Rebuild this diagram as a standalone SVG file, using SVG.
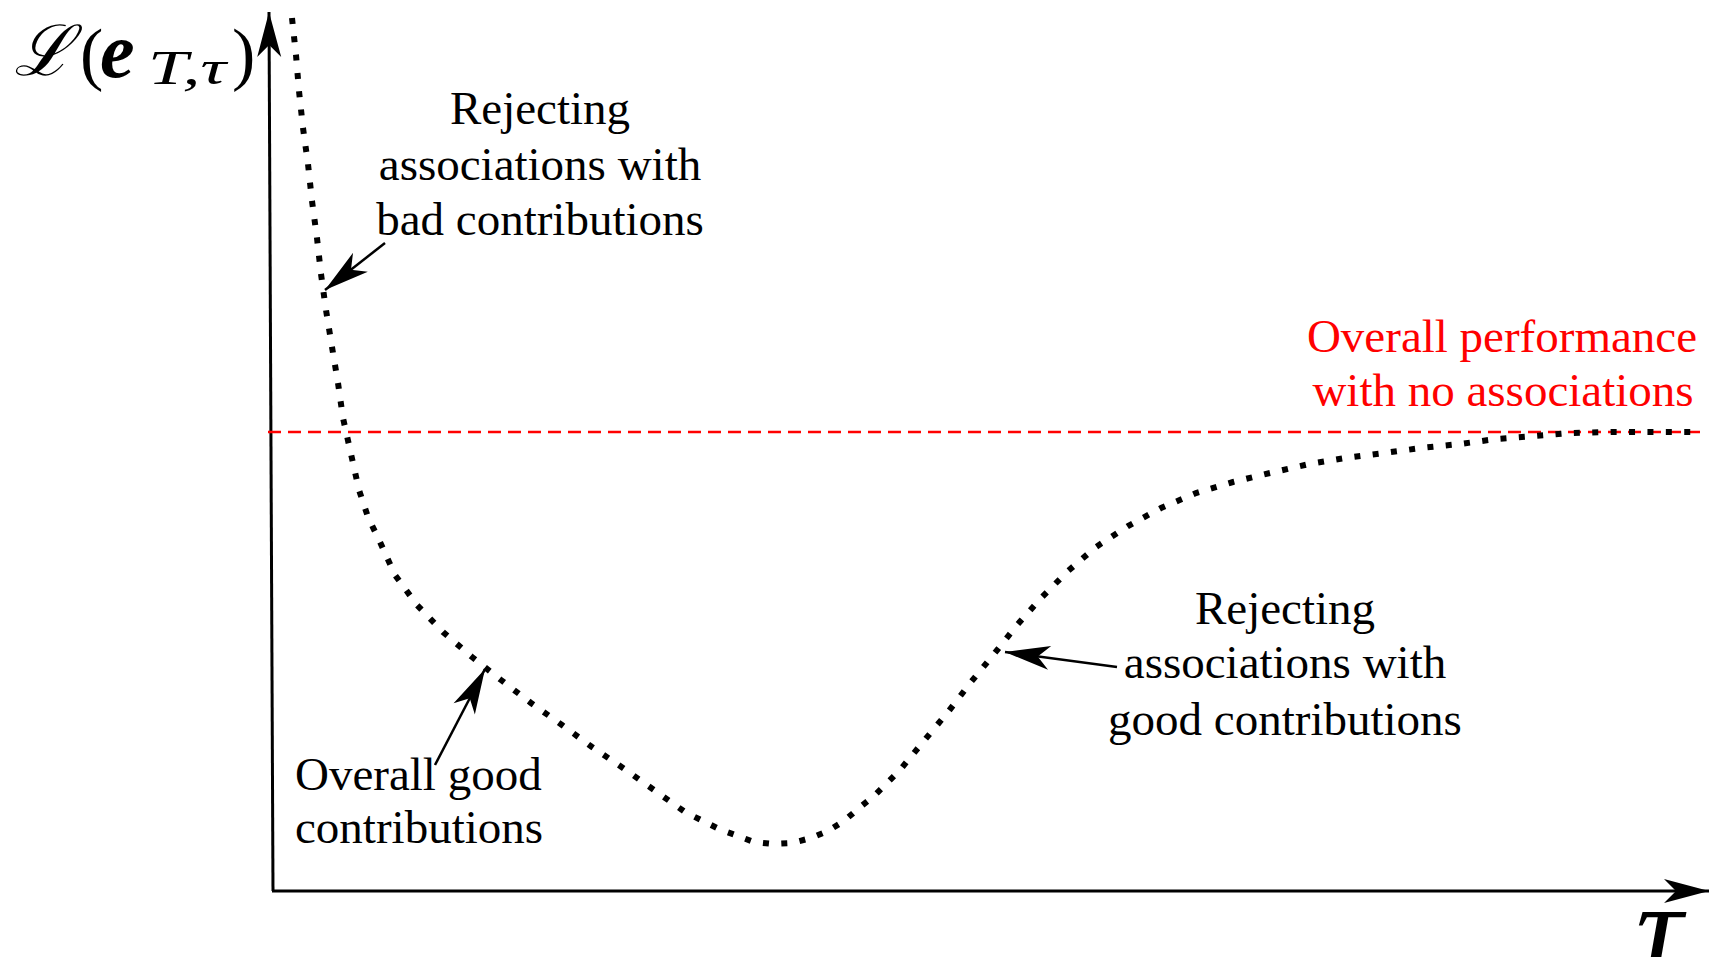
<svg xmlns="http://www.w3.org/2000/svg" width="1715" height="957" viewBox="0 0 1715 957">
<style>
.lbl{font-family:"Liberation Serif","Times New Roman",serif;font-size:47px;fill:#000}
.red{fill:#ff0000}
.ax{stroke:#000;stroke-width:3;fill:none}
.ptr{stroke:#000;stroke-width:2.5;fill:none}
</style>
<defs>
<marker id="arr" viewBox="-47 -14 49 28" refX="0" refY="0" markerWidth="49" markerHeight="28" markerUnits="userSpaceOnUse" orient="auto">
<path d="M0,0 L-45,-12 L-33,0 L-45,12 Z" fill="#000"/>
</marker>
</defs>
<rect width="1715" height="957" fill="#fff"/>
<g id="axes">
<path class="ax" d="M273,891 L269,12" marker-end="url(#arr)"/>
<path class="ax" d="M272,891 L1709,891" marker-end="url(#arr)"/>
</g>
<g id="y-label">
<text y="77" font-family="Liberation Serif, serif" font-size="70"><tspan x="14" y="75" font-size="70" font-family="DejaVu Serif, serif" font-style="italic">ℒ</tspan><tspan x="80" y="77">(</tspan><tspan x="100" y="77" font-size="78" font-weight="bold" font-style="italic">e</tspan></text>
<text x="148" y="84" font-family="Liberation Serif, serif" font-size="48" font-style="italic" textLength="78" lengthAdjust="spacingAndGlyphs">T,τ</text>
<text x="232" y="77" font-family="Liberation Serif, serif" font-size="70">)</text>
</g>
<g id="x-label">
<text x="1636" y="972" font-size="130" font-family="Liberation Serif, serif" font-style="italic">τ</text>
</g>
<g id="baseline">
<path d="M268,432 L1700,432" stroke="#ff0000" stroke-width="2.5" stroke-dasharray="13 7" fill="none"/>
</g>
<g id="curve">
<path d="M292,18 L296,55 L299,91 L303,128 L308,164 L312,201 L317,238 L321,274 L326,310 L332,347 L338,383 L343,418 L351,454 L359,490 L368,517 L380,542 L395,575 L417,605 L443,632 L472,657 L501,680 L531,703 L562,725 L592,747 L623,768 L654,790 L685,812 L719,829 L754,842 L773,844 L792,843 L811,838 L828,831 L844,821 L859,808 L874,796 L887,783 L900,770 L923,742 L948,712 L971,682 L994,654 L1017,625 L1042,597 L1068,571 L1096,547 L1128,526 L1161,508 L1196,493 L1233,482 L1270,473 L1309,464 L1345,458 L1384,453 L1421,448 L1460,444 L1496,439 L1535,436 L1572,433 L1611,432 L1650,432 L1692,432" stroke="#000" stroke-width="6" stroke-dasharray="6 12.4" fill="none"/>
</g>
<g id="connectors">
<path class="ptr" d="M385,243 L325,290" marker-end="url(#arr)"/>
<path class="ptr" d="M435,765 L485,669" marker-end="url(#arr)"/>
<path class="ptr" d="M1117,667 L1005,652" marker-end="url(#arr)"/>
</g>
<g id="note-bad">
<text class="lbl" text-anchor="middle" x="540" y="124">Rejecting</text>
<text class="lbl" text-anchor="middle" x="540" y="180">associations with</text>
<text class="lbl" text-anchor="middle" x="540" y="235">bad contributions</text>
</g>
<g id="note-none">
<text class="lbl red" text-anchor="middle" x="1502" y="352">Overall performance</text>
<text class="lbl red" text-anchor="middle" x="1503" y="406">with no associations</text>
</g>
<g id="note-good-reject">
<text class="lbl" text-anchor="middle" x="1285" y="624">Rejecting</text>
<text class="lbl" text-anchor="middle" x="1285" y="678">associations with</text>
<text class="lbl" text-anchor="middle" x="1285" y="735">good contributions</text>
</g>
<g id="note-good">
<text class="lbl" x="295" y="790">Overall good</text>
<text class="lbl" x="295" y="843">contributions</text>
</g>
</svg>
